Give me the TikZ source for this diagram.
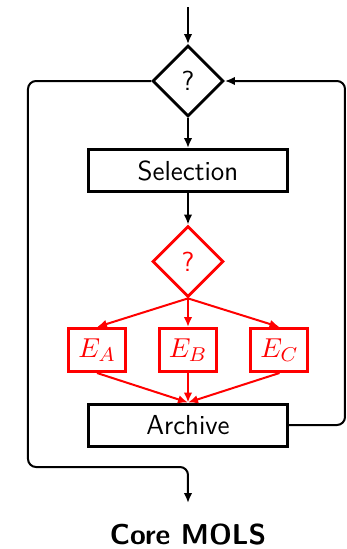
\documentclass[tikz,border=0pt]{standalone}
\usepackage{fontspec}
\usetikzlibrary{shapes.geometric,arrows.meta}
\begin{document}
\begin{tikzpicture}[x=0.4pt,y=-0.4pt,
  box/.style={draw, line width=1.2pt, rectangle, inner sep=0pt,
    minimum width=79.6pt, minimum height=16.8pt, font=\sffamily\fontsize{11}{13}\selectfont},
  ebox/.style={draw=red, text=red, line width=1.2pt, rectangle, inner sep=0pt,
    minimum width=22.8pt, minimum height=17.2pt, font=\fontsize{11}{13}\selectfont},
  test/.style={draw, line width=1.1pt, diamond, aspect=1, inner sep=0pt,
    minimum width=28.4pt, minimum height=28.4pt, font=\sffamily\fontsize{11}{13}\selectfont},
  flow/.style={line width=0.8pt, -{Latex[length=4pt,width=3.4pt]}},
  loop/.style={line width=0.8pt, rounded corners=3.2pt}
]
\useasboundingbox (0,0) rectangle (347,549);

% main column
\coordinate (start) at (188,7);
\node[test] (q1) at (188,81) {?};
\node[box] (sel) at (188,170.5) {Selection};
\node[test, draw=red, text=red] (q2) at (188,261.5) {?};
\node[ebox] (ea) at (97,350) {$E_A$};
\node[ebox] (eb) at (188,350) {$E_B$};
\node[ebox] (ec) at (279.5,350) {$E_C$};
\node[box] (arch) at (188,425) {Archive};
\coordinate (stop) at (188,503);
\node[font=\sffamily\bfseries\fontsize{11.5}{14}\selectfont] (core) at (188,535) {Core MOLS};

% straight connectors
\draw[flow] (start) -- (q1.north);
\draw[flow] (q1.south) -- (sel.north);
\draw[flow] (sel.south) -- (q2.north);

% evaluation branches
\begin{scope}[flow, red]
  \draw (q2.south) -- (ea.north);
  \draw (q2.south) -- (eb.north);
  \draw (q2.south) -- (ec.north);
  \draw (ea.south) -- (arch.north);
  \draw (eb.south) -- (arch.north);
  \draw (ec.south) -- (arch.north);
\end{scope}

% feedback loop and exit
\draw[loop, flow] (arch.east) -- (345,425) -- (345,81) -- (q1.east);
\draw[loop, flow] (q1.west) -- (28,81) -- (28,467) -- (188,467) -- (stop);
\end{tikzpicture}
\end{document}
